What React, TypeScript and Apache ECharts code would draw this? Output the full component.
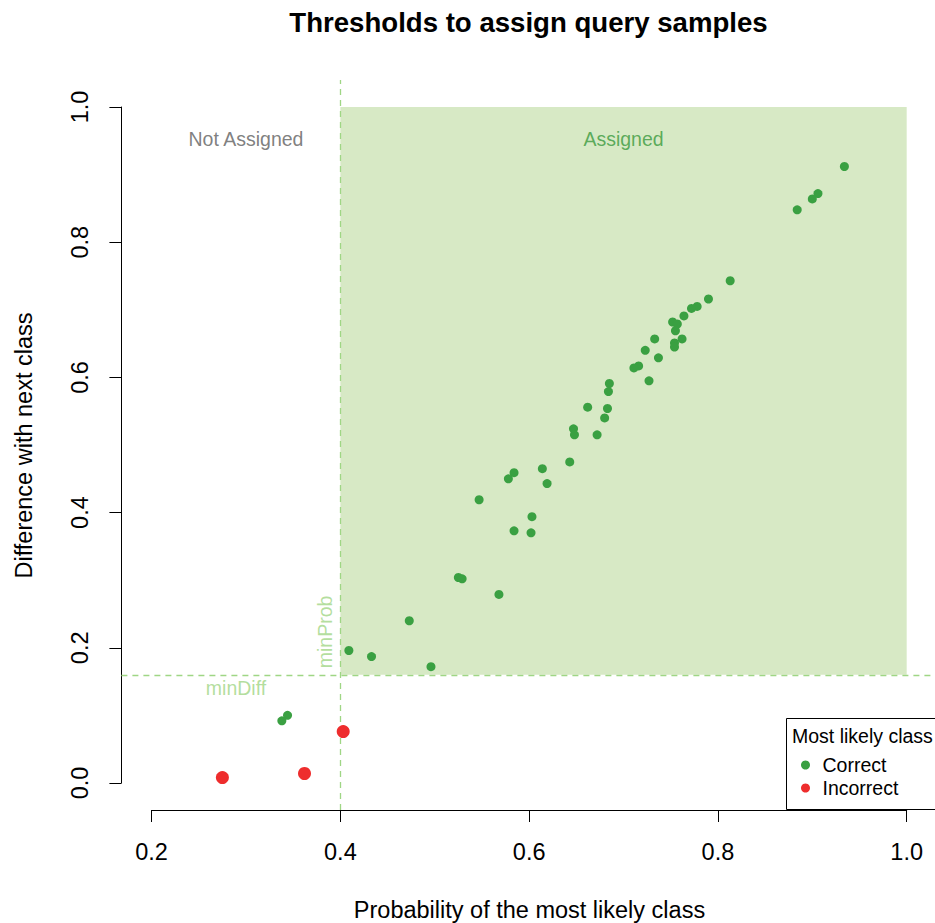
import React, { useEffect, useRef } from "react";
import * as echarts from "echarts";

const correctX = [0.934, 0.906, 0.900, 0.884, 0.813, 0.790, 0.778, 0.772, 0.764, 0.752, 0.757, 0.755, 0.762, 0.754, 0.754, 0.733, 0.737, 0.723, 0.716, 0.711, 0.727, 0.685, 0.684, 0.683, 0.680, 0.662, 0.672, 0.647, 0.648, 0.643, 0.614, 0.619, 0.584, 0.578, 0.547, 0.603, 0.584, 0.602, 0.525, 0.529, 0.568, 0.473, 0.409, 0.433, 0.496, 0.344, 0.338];
const correctY = [0.912, 0.872, 0.864, 0.848, 0.743, 0.716, 0.705, 0.702, 0.691, 0.682, 0.679, 0.669, 0.657, 0.651, 0.645, 0.657, 0.629, 0.640, 0.617, 0.614, 0.595, 0.591, 0.579, 0.554, 0.540, 0.556, 0.515, 0.524, 0.515, 0.475, 0.465, 0.443, 0.459, 0.450, 0.419, 0.394, 0.373, 0.370, 0.304, 0.302, 0.279, 0.240, 0.196, 0.187, 0.172, 0.100, 0.092];
const incorrectX = [0.403, 0.362, 0.275];
const incorrectY = [0.076, 0.014, 0.008];

const minProb = 0.4;
const minDiff = 0.16;
const xTicks = [0.2, 0.4, 0.6, 0.8, 1.0];
const yTicks = [0.0, 0.2, 0.4, 0.6, 0.8, 1.0];
const legendNames = ["Correct", "Incorrect"];

const FONT = "'Liberation Sans', Arial, Helvetica, sans-serif";
const GREEN = "#3aa042";
const RED = "#ee2d2d";
const LIGHT = "#9fd685";

export default function App() {
  const ref = useRef<HTMLDivElement>(null);
  useEffect(() => {
    if (!ref.current) return;
    const chart = echarts.init(ref.current, null, { renderer: "svg" });
    const option: any = {
      animation: false,
      textStyle: { fontFamily: FONT },
      grid: [
        { left: 121.4, right: 0, top: 80, bottom: 113 },
        { left: 151.6, right: 28.3, top: 80, bottom: 113 },
        { left: 121.4, right: 28.3, top: 107, bottom: 140 },
      ],
      xAxis: [
        { gridIndex: 0, type: "value", min: 0.168, max: 1.03, show: false },
        {
          gridIndex: 1,
          type: "value",
          min: xTicks[0],
          max: xTicks[xTicks.length - 1],
          interval: 0.2,
          position: "bottom",
          axisLine: { show: true, lineStyle: { color: "#000", width: 1 } },
          axisTick: { show: true, length: 12, lineStyle: { color: "#000", width: 1 } },
          axisLabel: {
            margin: 30,
            fontSize: 23.5,
            color: "#000",
            fontFamily: FONT,
            formatter: (v: number) => v.toFixed(1),
          },
          splitLine: { show: false },
        },
        { gridIndex: 2, type: "value", show: false },
      ],
      yAxis: [
        { gridIndex: 0, type: "value", min: -0.04, max: 1.04, show: false },
        { gridIndex: 1, type: "value", show: false },
        {
          gridIndex: 2,
          type: "value",
          min: yTicks[0],
          max: yTicks[yTicks.length - 1],
          interval: 0.2,
          position: "left",
          axisLine: { show: true, lineStyle: { color: "#000", width: 1 } },
          axisTick: { show: true, length: 12, lineStyle: { color: "#000", width: 1 } },
          axisLabel: {
            margin: 29,
            rotate: 90,
            fontSize: 23.5,
            color: "#000",
            fontFamily: FONT,
            formatter: (v: number) => v.toFixed(1),
          },
          splitLine: { show: false },
        },
      ],
      legend: {
        data: legendNames,
        orient: "vertical",
        left: 801,
        top: 755,
        padding: 0,
        itemGap: 3,
        itemWidth: 24,
        itemHeight: 9,
        icon: "circle",
        selectedMode: false,
        textStyle: { fontSize: 19.5, lineHeight: 20, color: "#000", fontFamily: FONT },
      },
      graphic: [
        {
          type: "text",
          x: 528.5,
          y: 22,
          style: {
            text: "Thresholds to assign query samples",
            align: "center",
            verticalAlign: "middle",
            fontSize: 27.6,
            fontWeight: "bold",
            fontFamily: FONT,
            fill: "#000",
          },
        },
        {
          type: "text",
          x: 529.5,
          y: 910,
          style: {
            text: "Probability of the most likely class",
            align: "center",
            verticalAlign: "middle",
            fontSize: 23.5,
            fontFamily: FONT,
            fill: "#000",
          },
        },
        {
          type: "text",
          x: 24,
          y: 445.5,
          rotation: Math.PI / 2,
          style: {
            text: "Difference with next class",
            align: "center",
            verticalAlign: "middle",
            fontSize: 23.5,
            fontFamily: FONT,
            fill: "#000",
          },
        },
        {
          type: "rect",
          shape: { x: 786.5, y: 718.5, width: 160, height: 91 },
          style: { fill: "#fff", stroke: "#000", lineWidth: 1 },
          z: 3,
        },
        {
          type: "text",
          x: 792,
          y: 736,
          z: 4,
          style: {
            text: "Most likely class",
            align: "left",
            verticalAlign: "middle",
            fontSize: 19.5,
            fontFamily: FONT,
            fill: "#000",
          },
        },
      ],
      series: [
        {
          name: "annotations",
          type: "scatter",
          xAxisIndex: 0,
          yAxisIndex: 0,
          symbolSize: 0,
          silent: true,
          z: 3,
          label: {
            show: true,
            position: "inside",
            fontSize: 19.5,
            fontFamily: FONT,
            formatter: (p: any) => p.name,
          },
          data: [
            { name: "Not Assigned", value: [(xTicks[0] + minProb) / 2, 0.953], label: { color: "#5e5e5e" } },
            { name: "Assigned", value: [(minProb + xTicks[xTicks.length - 1]) / 2, 0.953], label: { color: "#3a9a3e" } },
            { name: "minDiff", value: [0.2894, 0.1405], label: { color: LIGHT } },
            { name: "minProb", value: [0.384, 0.2234], label: { color: LIGHT, rotate: 90 } },
          ],
          markArea: {
            silent: true,
            z: 0,
            itemStyle: { color: "#d7e9c5", borderWidth: 0 },
            data: [[{ coord: [minProb, minDiff] }, { coord: [1.0, 1.0] }]],
          },
          markLine: {
            silent: true,
            z: 1,
            symbol: ["none", "none"],
            label: { show: false },
            lineStyle: { color: LIGHT, type: [6, 5], width: 1.3 },
            data: [{ xAxis: minProb }, { yAxis: minDiff }],
          },
        },
        {
          name: "Correct",
          type: "scatter",
          xAxisIndex: 0,
          yAxisIndex: 0,
          symbolSize: 9,
          z: 5,
          itemStyle: { color: GREEN, opacity: 1 },
          data: correctX.map((x, i) => [x, correctY[i]]),
        },
        {
          name: "Incorrect",
          type: "scatter",
          xAxisIndex: 0,
          yAxisIndex: 0,
          symbolSize: 13,
          z: 5,
          itemStyle: { color: RED, opacity: 1 },
          data: incorrectX.map((x, i) => [x, incorrectY[i]]),
        },
      ],
    };
    chart.setOption(option);
    return () => chart.dispose();
  }, []);
  return (
    <div
      ref={ref}
      style={{ position: "fixed", left: 0, top: 0, width: 935, height: 923, background: "#fff" }}
    />
  );
}
